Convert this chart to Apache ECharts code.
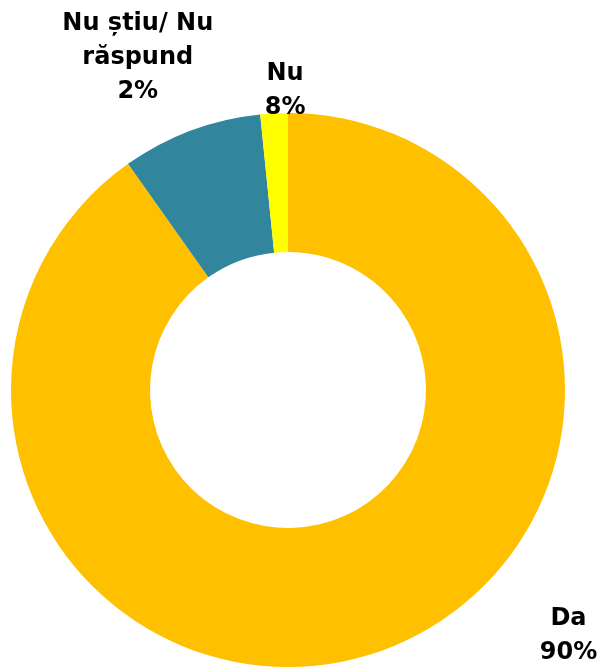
<!DOCTYPE html>
<html>
<head>
<meta charset="utf-8">
<script src="https://cdn.jsdelivr.net/npm/echarts@6/dist/echarts.min.js"></script>
<style>
  html, body { margin: 0; padding: 0; background: #fff; }
  #chart { width: 599px; height: 669px; }
</style>
</head>
<body>
<div id="chart"></div>
<script>
  // answers, clockwise from 12 o'clock
  const categories = ['Da', 'Nu', 'Nu știu/ Nu răspund']
  const labelNames = ['Da', 'Nu', 'Nu știu/ Nu\nrăspund']
  const values = [90.2, 8.2, 1.6]
  const colors = ['#FFC000', '#31859C', '#FFFF00']

  // where the labels sit in the original (fraction of width / height)
  const labelSpots = [
    [0.949, 0.950],
    [0.476, 0.136],
    [0.230, 0.086]
  ]

  const chart = echarts.init(document.getElementById('chart'))
  chart.setOption({
    animation: false,
    series: [{
      type: 'pie',
      center: [288, 390],
      radius: [138, 277],
      startAngle: 90,
      clockwise: true,
      data: categories.map((c, i) => ({
        name: c,
        value: values[i],
        itemStyle: { color: colors[i] }
      })),
      label: {
        show: true,
        position: 'outside',
        color: '#000',
        fontFamily: 'DejaVu Sans',
        fontWeight: 'bold',
        fontSize: 24,
        lineHeight: 34,
        align: 'center',
        overflow: 'none',
        formatter: p => labelNames[p.dataIndex] + '\n' + Math.round(p.percent) + '%'
      },
      labelLine: { show: false },
      labelLayout: p => {
        const s = labelSpots[p.dataIndex]
        return {
          x: s[0] * chart.getWidth(),
          y: s[1] * chart.getHeight(),
          align: 'center',
          verticalAlign: 'middle'
        }
      }
    }]
  })
</script>
</body>
</html>
